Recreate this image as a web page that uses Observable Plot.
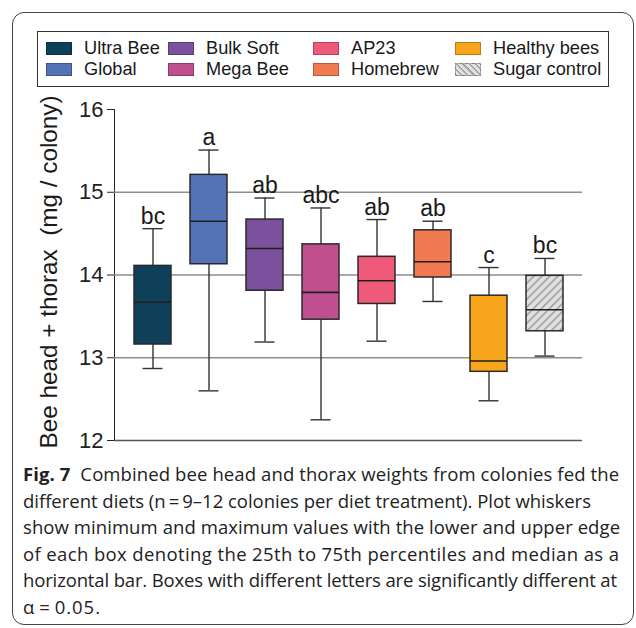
<!DOCTYPE html>
<html><head><meta charset="utf-8">
<script src="https://cdn.jsdelivr.net/npm/d3@7"></script>
<script src="https://cdn.jsdelivr.net/npm/@observablehq/plot@0.6"></script>
<style>
body{margin:0;background:#fff;}
#page{position:relative;width:636px;height:628px;overflow:hidden;font-family:"Liberation Sans",Arial,sans-serif;color:#1a1a1a;}
#frame{position:absolute;left:12px;top:12px;width:622px;height:613px;border:1.4px solid #444;border-radius:12px;box-sizing:border-box;}
#legend{position:absolute;left:37px;top:31px;width:572px;height:56px;border:1.5px solid #333;box-sizing:border-box;}
.item{position:absolute;font-size:18.2px;line-height:20px;white-space:nowrap;}
.sw{position:absolute;width:26px;height:13px;box-sizing:border-box;border:1px solid rgba(0,0,0,0.25);}
#chart{position:absolute;left:0;top:90px;}
#caption{position:absolute;left:23px;top:461px;font-family:"Open Sans",sans-serif;font-size:18.5px;color:#222;}
#caption div{height:26.5px;line-height:26.5px;white-space:nowrap;}
</style></head>
<body>
<svg width="0" height="0" style="position:absolute">
<defs>
<pattern id="hatch" patternUnits="userSpaceOnUse" width="8" height="8">
<rect width="8" height="8" fill="#e0e0e0"/>
<path d="M-2,2 l4,-4 M0,8 l8,-8 M6,10 l4,-4" stroke="#a6a6a6" stroke-width="1.6"/>
</pattern>
</defs>
</svg>
<div id="page">
<div id="frame"></div>
<div id="legend"></div>
<div id="chart"></div>
<div id="caption"></div>
</div>
<script>
const diets = ["Ultra Bee","Global","Bulk Soft","Mega Bee","AP23","Homebrew","Healthy bees","Sugar control"];
const whiskerLow  = [12.87, 12.60, 13.19, 12.25, 13.20, 13.68, 12.48, 13.02];
const q1          = [13.16, 14.13, 13.81, 13.46, 13.65, 13.97, 12.83, 13.32];
const medians     = [13.67, 14.65, 14.32, 13.79, 13.93, 14.16, 12.96, 13.58];
const q3          = [14.11, 15.21, 14.67, 14.37, 14.22, 14.54, 13.75, 13.99];
const whiskerHigh = [14.56, 15.51, 14.93, 14.81, 14.67, 14.65, 14.09, 14.20];
const letters     = ["bc","a","ab","abc","ab","ab","c","bc"];
const colors      = ["#0f405a","#5472b6","#7b509c","#c04f8f","#ef5a79","#f27a53","#f7a61c","url(#hatch)"];
const yTicks      = [12,13,14,15,16];
const yLabel      = "Bee head + thorax \u00a0(mg / colony)";

const data = diets.map((d,i)=>({diet:d, lo:whiskerLow[i], q1:q1[i], med:medians[i], q3:q3[i], hi:whiskerHigh[i], letter:letters[i]}));

// legend
const legendOrder = [["Ultra Bee","Global"],["Bulk Soft","Mega Bee"],["AP23","Homebrew"],["Healthy bees","Sugar control"]];
const colX = [8, 130, 275, 417]; // relative to legend box
const rowY = [10, 31];
const lg = document.getElementById("legend");
legendOrder.forEach((col,ci)=>col.forEach((name,ri)=>{
  const i = diets.indexOf(name);
  const sw = document.createElement("div");
  sw.className="sw";
  sw.style.left = colX[ci]+"px"; sw.style.top = rowY[ri]+"px";
  if (colors[i].startsWith("url")) {
    sw.style.background = "repeating-linear-gradient(45deg,#e0e0e0 0 3px,#a6a6a6 3px 4.5px)";
  } else sw.style.background = colors[i];
  lg.appendChild(sw);
  const t = document.createElement("div");
  t.className="item"; t.textContent=name;
  t.style.left = (colX[ci]+38)+"px"; t.style.top = (rowY[ri]-4)+"px";
  lg.appendChild(t);
}));

const chart = Plot.plot({
  width: 636, height: 370,
  marginLeft: 114, marginRight: 54, marginTop: 19, marginBottom: 20,
  x: {domain: diets, padding: 0.34, axis: null},
  y: {domain: [12,16], ticks: yTicks, tickFormat: d => String(d), line: true, tickSize: 7, tickPadding: 4, label: null},
  color: {domain: diets, range: colors},
  style: {background: "transparent", fontFamily: "Liberation Sans, Arial, sans-serif", fontSize: "22px", color: "#222"},
  marks: [
    Plot.ruleY([13,14,15], {stroke: "#8e8e8e", strokeWidth: 1.4}),
    Plot.ruleY([12], {stroke: "#555", strokeWidth: 1.6}),
    Plot.ruleX(data, {x: "diet", y1: "lo", y2: "hi", stroke: "#333", strokeWidth: 1.4}),
    Plot.tickY(data, {x: "diet", y: "lo", stroke: "#333", strokeWidth: 1.4, insetLeft: 8.5, insetRight: 8.5}),
    Plot.tickY(data, {x: "diet", y: "hi", stroke: "#333", strokeWidth: 1.4, insetLeft: 8.5, insetRight: 8.5}),
    Plot.barY(data, {x: "diet", y1: "q1", y2: "q3", fill: "diet", stroke: "#2a2a2a", strokeWidth: 1.5}),
    Plot.tickY(data, {x: "diet", y: "med", stroke: "#1e1e1e", strokeWidth: 1.6}),
    Plot.text(data, {x: "diet", y: "hi", text: "letter", lineAnchor: "bottom", dy: -5, fontSize: 23, fill: "#1a1a1a"}),
    Plot.text([yLabel], {frameAnchor: "left", rotate: -90, lineAnchor: "top", textAnchor: "middle", dx: -75, dy: -3, fontSize: 24.3, fill: "#1a1a1a"})
  ]
});
document.getElementById("chart").appendChild(chart);

const captionLines = [
  "<b>Fig. 7</b>&nbsp; Combined bee head and thorax weights from colonies fed the",
  "different diets (n\u2009=\u20099–12 colonies per diet treatment). Plot whiskers",
  "show minimum and maximum values with the lower and upper edge",
  "of each box denoting the 25th to 75th percentiles and median as a",
  "horizontal bar. Boxes with different letters are significantly different at",
  "α\u2009=\u20090.05."
];
const captionWidths = [596, 568, 597, 596, 594, 77];
const cap = document.getElementById("caption");
captionLines.forEach((l,i)=>{
  const d=document.createElement("div");
  const s=document.createElement("span");
  s.innerHTML=l; d.appendChild(s); cap.appendChild(d);
  const w = s.getBoundingClientRect().width;
  const n = s.textContent.length;
  if (n > 1) s.style.letterSpacing = ((captionWidths[i]-w)/(n-1)).toFixed(3)+"px";
});
</script>
</body></html>
